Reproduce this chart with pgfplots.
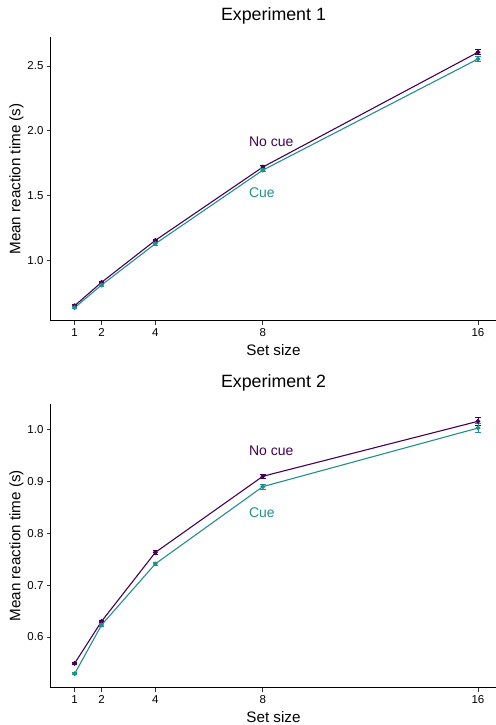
\documentclass[border=0pt]{standalone}
\usepackage{pgfplots}
\pgfplotsset{compat=1.18}
\usepackage{fontspec}
\setmainfont{Liberation Sans}
\definecolor{nocue}{HTML}{440154}
\definecolor{cue}{HTML}{21908C}
\tikzset{lab/.style={anchor=west, font=\fontsize{14bp}{16bp}\selectfont, inner sep=0pt}}
\pgfplotsset{
  rtstyle/.style={
    scale only axis, width=445bp, height=284bp,
    anchor=south west,
    axis x line*=bottom, axis y line*=left,
    axis line style={line width=1bp, black},
    xmin=0.12, xmax=16.67,
    xtick={1,2,4,8,16},
    xticklabels={1,2,4,8,16},
    tick align=outside,
    major tick length=4bp,
    tick style={line width=0.8bp, black!80},
    every tick label/.append style={font=\fontsize{11.5bp}{13bp}\selectfont, text=black},
    title style={font=\fontsize{17.8bp}{20bp}\selectfont, at={(axis description cs:0.5,1)}, anchor=base, yshift=10.2bp},
    xlabel style={font=\fontsize{15.2bp}{17bp}\selectfont, at={(axis description cs:0.5,0)}, anchor=base, yshift=-34.3bp},
    ylabel style={font=\fontsize{15.2bp}{17bp}\selectfont, at={(axis description cs:-0.0775,0.5)}, anchor=center},
    xlabel={Set size}, ylabel={Mean reaction time (s)},
    clip=false,
  },
  nocueline/.style={nocue, line width=1.1bp, mark=*, mark size=1.8bp, mark options={fill=nocue, draw=nocue},
    error bars/.cd, y dir=both, y explicit, error bar style={line width=0.9bp, nocue}, error mark options={rotate=90, mark size=2.8bp, line width=0.9bp, nocue}},
  cueline/.style={cue, line width=1.1bp, mark=*, mark size=1.8bp, mark options={fill=cue, draw=cue},
    error bars/.cd, y dir=both, y explicit, error bar style={line width=0.9bp, cue}, error mark options={rotate=90, mark size=2.8bp, line width=0.9bp, cue}},
}
\begin{document}
\begin{tikzpicture}
\path[use as bounding box] (0,0) rectangle (496bp,725bp);
\begin{axis}[rtstyle, at={(51bp,404bp)}, ymin=0.529, ymax=2.724, ytick={1.0,1.5,2.0,2.5}, yticklabels={1.0,1.5,2.0,2.5}, title={Experiment 1}]
\addplot[nocueline] table[y error index=2] {
x y e
1 0.647 0.008
2 0.828 0.008
4 1.152 0.010
8 1.719 0.010
16 2.606 0.018
};
\addplot[cueline] table[y error index=2] {
x y e
1 0.632 0.008
2 0.807 0.008
4 1.126 0.010
8 1.695 0.010
16 2.554 0.018
};
\node[lab, text=nocue] at (axis cs:7.48,1.914) {No cue};
\node[lab, text=cue] at (axis cs:7.48,1.52) {Cue};
\end{axis}
\begin{axis}[rtstyle, at={(51bp,37.3bp)}, ymin=0.502, ymax=1.05, ytick={0.6,0.7,0.8,0.9,1.0}, yticklabels={0.6,0.7,0.8,0.9,1.0}, title={Experiment 2}]
\addplot[nocueline] table[y error index=2] {
x y e
1 0.549 0.002
2 0.630 0.002
4 0.763 0.003
8 0.910 0.004
16 1.016 0.008
};
\addplot[cueline] table[y error index=2] {
x y e
1 0.529 0.002
2 0.623 0.003
4 0.741 0.003
8 0.890 0.005
16 1.003 0.008
};
\node[lab, text=nocue] at (axis cs:7.48,0.959) {No cue};
\node[lab, text=cue] at (axis cs:7.48,0.839) {Cue};
\end{axis}
\end{tikzpicture}
\end{document}
